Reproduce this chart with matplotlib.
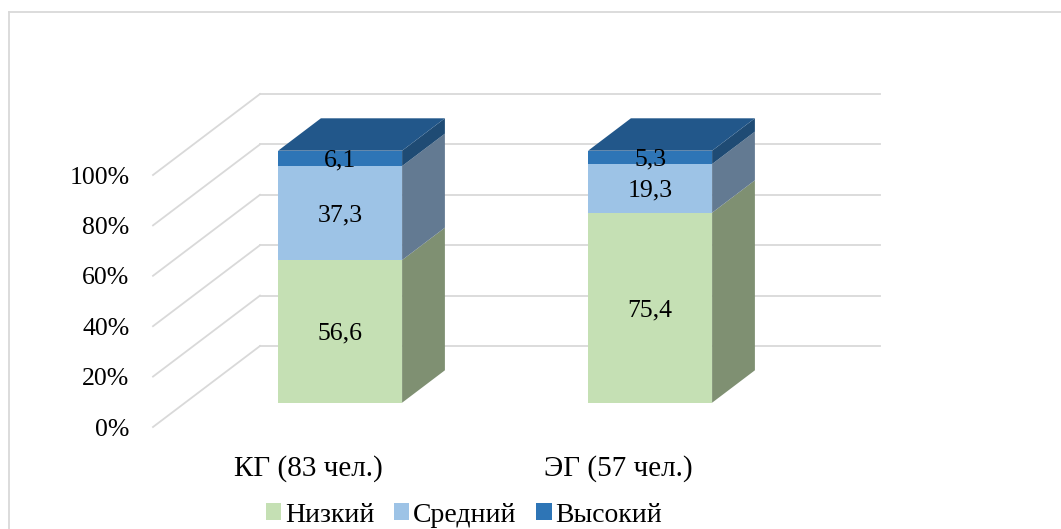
import matplotlib.pyplot as plt
from matplotlib.patches import Polygon, Patch
from matplotlib.lines import Line2D

plt.rcParams['font.family'] = ['Liberation Serif', 'DejaVu Serif']

# data
groups = ['КГ (83 чел.)', 'ЭГ (57 чел.)']
series = ['Низкий', 'Средний', 'Высокий']
low = [56.6, 75.4]
mid = [37.3, 19.3]
high = [6.1, 5.3]
yticks = [0, 20, 40, 60, 80, 100]

front_cols = ['#C5E0B4', '#9DC3E6', '#2E75B6']
side_cols = ['#7F9072', '#637A92', '#1F4B74']
top_col = '#22578A'
grid_col = '#D9D9D9'

W, H = 1061, 529
fig = plt.figure(figsize=(W / 100, H / 100), dpi=100)
# axes = front plane of the 3d box
ax = fig.add_axes([153 / W, (H - 427) / H, 620 / W, 252 / H])
ax.set_xlim(-0.5, 1.5)
ax.set_ylim(0, 100)
for s in ax.spines.values():
    s.set_visible(False)
ax.patch.set_alpha(0)

# oblique depth offset (full depth) in data units
DX = 107 / 310
DY = 81 / 2.52
x0, x1 = ax.get_xlim()

# walls: side diagonals + back horizontals
for t in yticks:
    ax.add_line(Line2D([x0, x0 + DX], [t, t + DY], color=grid_col, lw=1.3, clip_on=False, zorder=1))
    ax.add_line(Line2D([x0 + DX, x1 + DX], [t + DY, t + DY], color=grid_col, lw=1.3, clip_on=False, zorder=1))

# bars
f0, f1 = 0.3, 0.7
bw = 0.4
stacks = [low, mid, high]
for i in range(len(groups)):
    bottom = 0
    for k, vals in enumerate(stacks):
        v = vals[i]
        top = bottom + v
        xl = i - bw / 2 + f0 * DX
        xr = i + bw / 2 + f0 * DX
        yb = bottom + f0 * DY
        yt = top + f0 * DY
        ddx = (f1 - f0) * DX
        ddy = (f1 - f0) * DY
        ax.add_patch(Polygon([(xl, yb), (xr, yb), (xr, yt), (xl, yt)], closed=True,
                             fc=front_cols[k], ec='none', clip_on=False, zorder=3))
        ax.add_patch(Polygon([(xr, yb), (xr + ddx, yb + ddy), (xr + ddx, yt + ddy), (xr, yt)], closed=True,
                             fc=side_cols[k], ec='none', clip_on=False, zorder=3))
        if k == len(stacks) - 1:
            ax.add_patch(Polygon([(xl, yt), (xr, yt), (xr + ddx, yt + ddy), (xl + ddx, yt + ddy)], closed=True,
                                 fc=top_col, ec='none', clip_on=False, zorder=3))
        ax.text(i + f0 * DX, (bottom + top) / 2 + f0 * DY, f'{v:.1f}'.replace('.', ','),
                ha='center', va='center_baseline', fontsize=18.5, color='black', zorder=5)
        bottom = top

ax.set_yticks(yticks)
ax.set_yticklabels([f'{t}%' for t in yticks], fontsize=18.5)
ax.set_xticks(range(len(groups)))
ax.set_xticklabels(groups, fontsize=21)
ax.tick_params(axis='y', length=0, pad=17)
ax.tick_params(axis='x', length=0, pad=20)

# chart border (top and left visible)
fig.add_artist(Line2D([8.5 / W, 1], [1 - 11.5 / H, 1 - 11.5 / H], color=grid_col, lw=1.3))
fig.add_artist(Line2D([8.5 / W, 8.5 / W], [0, 1 - 11.5 / H], color=grid_col, lw=1.3))

handles = [Patch(fc=c, ec='none') for c in front_cols]
fig.legend(handles, series, loc='center', bbox_to_anchor=(464 / W, 1 - 515 / H), ncol=3,
           frameon=False, fontsize=20, handlelength=0.55, handleheight=0.55,
           handletextpad=0.15, columnspacing=0.7)

fig.savefig('out.png', dpi=100)
